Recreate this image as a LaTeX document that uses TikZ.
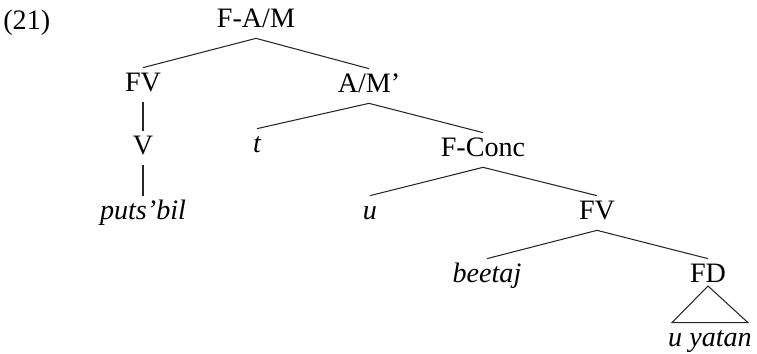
\documentclass[tikz,border=0pt]{standalone}
\usepackage{fontspec}
\setmainfont{Liberation Serif}
\usepackage{tikz}
\usetikzlibrary{calc}

\begin{document}
\begin{tikzpicture}[
    font=\fontsize{16}{19}\selectfont,
    cat/.style={anchor=base, inner xsep=1pt, inner ysep=0.15cm, text height=0.33cm, text depth=0.05cm},
    leaf/.style={cat, font=\fontsize{16}{19}\selectfont\itshape},
    branch/.style={line width=0.6pt, black!85}]
    \useasboundingbox (0,0) rectangle (15.14,7.08);

    % example number
    \node[anchor=base west, inner sep=0pt] (exnum) at (0.06,6.48) {(21)};

    % nodes
    \node[cat] (fam) at (5.12,6.52) {F-A/M};
    \node[cat] (fvtop) at (2.86,5.24) {FV};
    \node[cat] (amb) at (7.38,5.22) {A/M'};
    \node[cat] (verb) at (2.86,3.98) {V};
    \node[leaf] (trace) at (5.14,4.02) {t};
    \node[cat] (fconc) at (9.66,3.94) {F-Conc};
    \node[leaf] (putsbil) at (2.86,2.68) {puts'bil};
    \node[leaf] (uconc) at (7.40,2.68) {u};
    \node[cat] (fvlow) at (11.94,2.68) {FV};
    \node[leaf] (beetaj) at (9.74,1.42) {beetaj};
    \node[cat] (fd) at (14.16,1.42) {FD};
    \node[leaf] (uyatan) at (14.20,0.14) {u yatan};

    % branches
    \draw[branch] (fam.south) -- (fvtop.north) (fam.south) -- (amb.north);
    \draw[branch] (fvtop.south) -- (verb.north) (verb.south) -- (putsbil.north);
    \draw[branch] (amb.south) -- (trace.north) (amb.south) -- (fconc.north);
    \draw[branch] (fconc.south) -- (uconc.north) (fconc.south) -- (fvlow.north);
    \draw[branch] (fvlow.south) -- (beetaj.north) (fvlow.south) -- (fd.north);

    % triangle
    \draw[branch] ($(fd.base)+(0,-0.06)$) -- ($(uyatan.north)+(-0.76,0)$)
        -- ($(uyatan.north)+(0.76,0)$) -- cycle;
\end{tikzpicture}
\end{document}
